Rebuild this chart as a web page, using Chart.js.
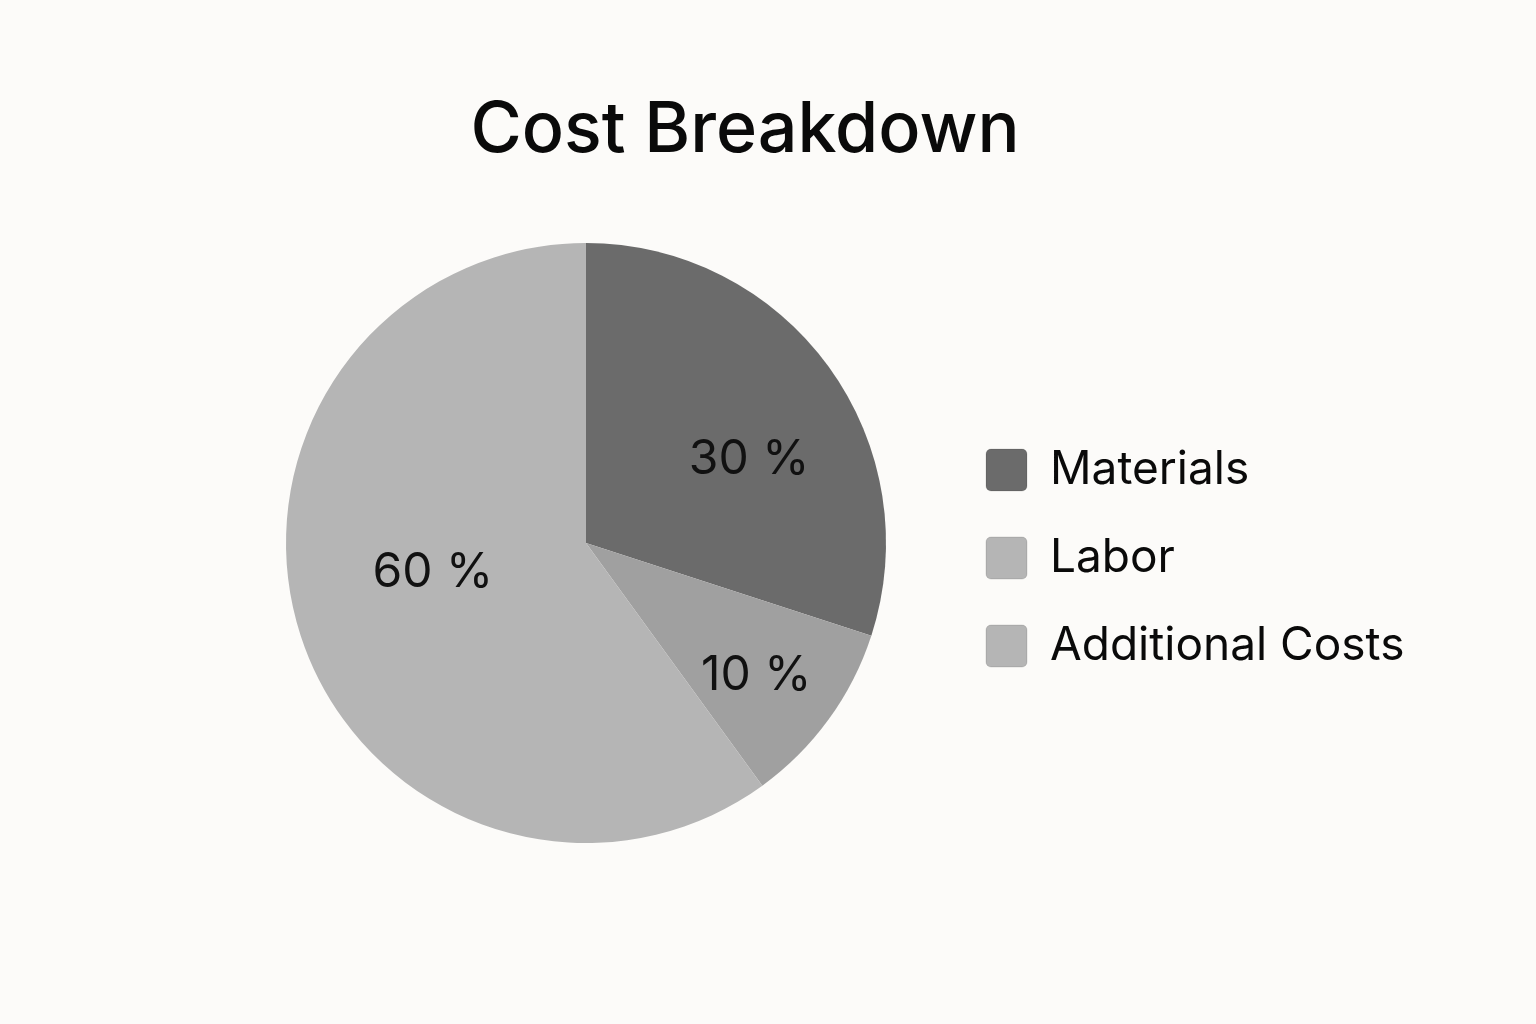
<!DOCTYPE html>
<html>
<head>
<meta charset="utf-8">
<script src="https://cdn.jsdelivr.net/npm/chart.js@4"></script>
<style>
  html, body { margin: 0; padding: 0; background: #fcfbf9; }
  #wrap { position: relative; width: 1536px; height: 1024px; }
</style>
</head>
<body>
<div id="wrap"><canvas id="costChart" width="1536" height="1024"></canvas></div>
<script>
// data
const categories = ['Materials', 'Labor', 'Additional Costs'];
const shares = [30, 10, 60];

// colours
const sliceColors = ['#6b6b6b', '#a0a0a0', '#b5b5b5'];
const legendColors = ['#6b6b6b', '#b5b5b5', '#b5b5b5'];

// label placement inside slices: fraction of radius, angle nudge in degrees
const labelRadius = [0.61, 0.72, 0.52];
const labelNudge = [9, 2, 7];

const FONT = 'Inter, "Noto Sans", sans-serif';

const sliceLabels = {
    id: 'sliceLabels',
    afterDatasetsDraw(chart) {
        const { ctx } = chart;
        const meta = chart.getDatasetMeta(0);
        ctx.save();
        ctx.font = '400 48px ' + FONT;
        ctx.fillStyle = '#111111';
        ctx.textAlign = 'center';
        ctx.textBaseline = 'middle';
        meta.data.forEach((arc, i) => {
            const p = arc.getProps(['x', 'y', 'startAngle', 'endAngle', 'outerRadius']);
            const mid = (p.startAngle + p.endAngle) / 2 + labelNudge[i] * Math.PI / 180;
            const r = p.outerRadius * labelRadius[i];
            ctx.fillText(shares[i] + ' %', p.x + Math.cos(mid) * r, p.y + Math.sin(mid) * r);
        });
        ctx.restore();
    }
};

// legend box is kept narrow (so the title centres over pie + legend);
// let its text run past the box instead of being clipped
const legendOverflow = {
    id: 'legendOverflow',
    afterLayout(chart) {
        const lg = chart.legend;
        if (!lg) return;
        lg.right = chart.width;
        lg.width = lg.right - lg.left;
    }
};

new Chart(document.getElementById('costChart'), {
    type: 'pie',
    data: {
        labels: categories,
        datasets: [{
            data: shares,
            backgroundColor: sliceColors,
            borderWidth: 0
        }]
    },
    options: {
        responsive: false,
        animation: false,
        layout: { padding: { left: 228, right: 274, top: 0, bottom: 181 } },
        plugins: {
            tooltip: { enabled: false },
            title: {
                display: true,
                text: 'Cost Breakdown',
                color: '#0a0a0a',
                font: { family: FONT, size: 70, weight: '500', lineHeight: 1.2 },
                padding: { top: 89, bottom: 70 }
            },
            legend: {
                position: 'right',
                fullSize: false,
                maxWidth: 318,
                title: { display: true, text: '', font: { size: 10, lineHeight: 1 }, padding: 10 },
                labels: {
                    color: '#0a0a0a',
                    font: { family: FONT, size: 46 },
                    boxWidth: 41,
                    boxHeight: 42,
                    padding: 42,
                    useBorderRadius: true,
                    borderRadius: 5,
                    generateLabels() {
                        return categories.map((name, i) => ({
                            text: name,
                            fillStyle: legendColors[i],
                            strokeStyle: 'rgba(0,0,0,0.12)',
                            lineWidth: 1,
                            fontColor: '#0a0a0a',
                            borderRadius: 5,
                            hidden: false,
                            index: i
                        }));
                    }
                }
            }
        }
    },
    plugins: [sliceLabels, legendOverflow]
});
</script>
</body>
</html>
